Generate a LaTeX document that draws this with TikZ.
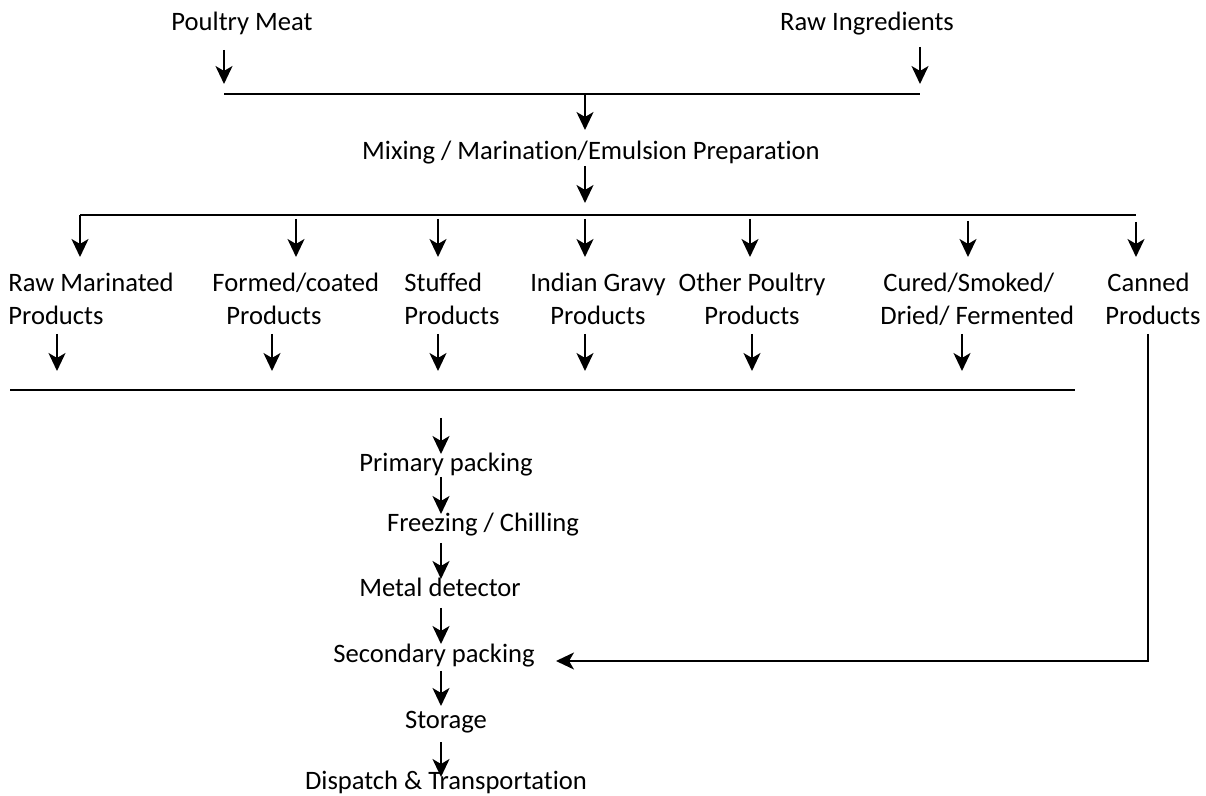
\documentclass[tikz,border=0pt]{standalone}
\usepackage{fontspec}
\setmainfont{Carlito}[Ligatures=NoCommon]
\usetikzlibrary{arrows.meta}
\begin{document}
\begin{tikzpicture}[x=0.5pt,y=-0.5pt,
  lbl/.style={font=\fontsize{13.3}{16.5}\selectfont, inner sep=0pt},
  arr/.style={line width=1.1pt, -{Stealth[length=9pt,width=8.5pt,inset=2.5pt]}},
  bar/.style={line width=1.1pt}]
\useasboundingbox (0,0) rectangle (1206,796);

% ---- inputs ----
\node[lbl, anchor=base] (meat) at (242,31) {Poultry Meat};
\node[lbl, anchor=base] (ingr) at (867,31) {Raw Ingredients};
\coordinate (meatA) at (224,50);  \coordinate (meatB) at (224,84);
\coordinate (ingrA) at (920,47);  \coordinate (ingrB) at (920,84);
\draw[arr] (meatA) -- (meatB);
\draw[arr] (ingrA) -- (ingrB);
\coordinate (joinL) at (224,94); \coordinate (joinR) at (920,94);
\draw[bar] (joinL) -- (joinR);
\coordinate (joinM) at (585,94); \coordinate (mixT) at (585,130);
\draw[arr] (joinM) -- (mixT);

% ---- mixing ----
\node[lbl, anchor=base] (mix) at (591,160) {Mixing / Marination/Emulsion Preparation};
\coordinate (mixA) at (585,166); \coordinate (mixB) at (585,203);
\draw[arr] (mixA) -- (mixB);

% ---- distribution bar ----
\coordinate (brL) at (80,215); \coordinate (brR) at (1136,215);
\draw[bar] (brL) -- (brR);

% ---- product groups ----
\node[lbl, anchor=north west, align=left] (p1) at (8,273) {Raw Marinated\\Products};
\node[lbl, anchor=north west, align=left] (p2) at (212,273) {Formed/coated\\\hspace*{7pt}Products};
\node[lbl, anchor=north west, align=left] (p3) at (404,273) {Stuffed\\Products};
\node[lbl, anchor=north, align=center] (p4) at (598,273) {Indian Gravy\\Products};
\node[lbl, anchor=north, align=center] (p5) at (752,273) {Other Poultry\\Products};
\node[lbl, anchor=north west, align=left] (p6) at (880,273) {\hspace*{1.5pt}Cured/Smoked/\\Dried/ Fermented};
\node[lbl, anchor=north west, align=left] (p7) at (1105,273) {\hspace*{1pt}Canned\\Products};

% arrows into the groups
\foreach \n/\x/\a in {1/80/215, 2/296/219, 3/438/219, 4/585/219, 5/750/219, 6/968/221, 7/1136/222}{
  \coordinate (in\n a) at (\x,\a);
  \coordinate (in\n b) at (\x,257);
  \draw[arr] (in\n a) -- (in\n b);
}

% arrows out of the groups
\foreach \n/\x in {1/57, 2/272, 3/438, 4/585, 5/752, 6/962}{
  \coordinate (out\n a) at (\x,334);
  \coordinate (out\n b) at (\x,371);
  \draw[arr] (out\n a) -- (out\n b);
}

% collecting bar
\coordinate (colL) at (10,390); \coordinate (colR) at (1075,390);
\draw[bar] (colL) -- (colR);

% ---- processing line ----
\node[lbl, anchor=base] (s1) at (446,472) {Primary packing};
\node[lbl, anchor=base] (s2) at (483,532) {Freezing / Chilling};
\node[lbl, anchor=base] (s3) at (440,597) {Metal detector};
\node[lbl, anchor=base] (s4) at (434,662) {Secondary packing};
\node[lbl, anchor=base] (s5) at (446,728) {Storage};
\node[lbl, anchor=base] (s6) at (446,790) {Dispatch \& Transportation};

\foreach \n/\a/\b in {1/418/454, 2/477/514, 3/543/579, 4/608/644, 5/671/706, 6/742/777}{
  \coordinate (st\n a) at (441,\a);
  \coordinate (st\n b) at (441,\b);
  \draw[arr] (st\n a) -- (st\n b);
}

% canned products bypass
\coordinate (canA) at (1148,334);
\coordinate (canB) at (1148,661);
\coordinate (canC) at (556,661);
\draw[arr] (canA) -- (canB) -- (canC);
\end{tikzpicture}
\end{document}
